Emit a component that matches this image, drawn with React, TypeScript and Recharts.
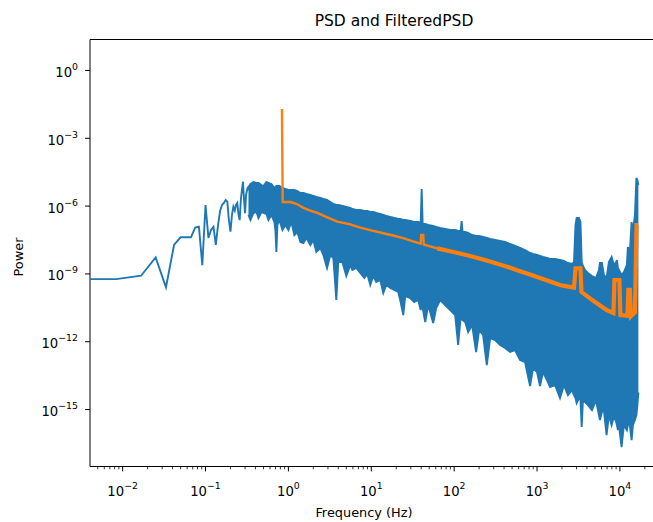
import React from 'react';
import { ComposedChart, Line, Area, XAxis, YAxis, ReferenceArea } from 'recharts';

const BLUE = '#1f77b4';
const ORANGE = '#ff7f0e';
const FONT = 'DejaVu Sans, Liberation Sans, sans-serif';

// axis limits (log10)
const xLogLimits = [-2.394, 4.532];
const yLogLimits = [-17.52, 1.37];

const xMajorTicks = [1e-2, 1e-1, 1, 1e1, 1e2, 1e3, 1e4];
const xMinorMultipliers = [2, 3, 4, 5, 6, 7, 8, 9];
const yMajorTicks = [1, 1e-3, 1e-6, 1e-9, 1e-12, 1e-15];

// PSD, low frequency bins that can be told apart (log10 Hz, log10 power)
const psdLowLogFreq = [
  -2.6, -2.079, -1.778, -1.602, -1.477, -1.38, -1.301, -1.235, -1.176, -1.125, -1.08, -1.039,
  -1.0, -0.965, -0.934, -0.904, -0.876, -0.849, -0.824, -0.801, -0.778, -0.757, -0.737, -0.718,
  -0.699, -0.681, -0.664, -0.647, -0.633, -0.617, -0.602, -0.588, -0.574, -0.561, -0.548, -0.535,
  -0.523, -0.511, -0.499, -0.488, -0.478,
];
const psdLowLogPower = [
  -9.23, -9.23, -9.08, -8.27, -9.59, -7.72, -7.38, -7.38, -7.38, -6.95, -6.91, -8.61,
  -5.95, -7.41, -7.06, -6.92, -7.72, -6.84, -6.2, -5.95, -5.86, -5.73, -5.8, -6.62,
  -7.13, -6.39, -6.03, -6.2, -5.95, -5.86, -6.39, -6.62, -5.73, -5.29, -4.92, -5.73,
  -6.31, -5.51, -5.29, -5.14, -5.3,
];

// PSD, dense part: upper and lower envelope of the trace (log10 Hz, log10 power)
const psdBandLogFreq = [
  -0.482, -0.458, -0.422, -0.386, -0.361, -0.325, -0.301, -0.265, -0.241, -0.205, -0.169, -0.157,
  -0.145, -0.133, -0.108, -0.072, -0.036, 0, 0.036, 0.072, 0.108, 0.145, 0.181, 0.217,
  0.265, 0.301, 0.337, 0.386, 0.422, 0.466, 0.506, 0.542, 0.578, 0.602, 0.651, 0.699,
  0.747, 0.771, 0.819, 0.867, 0.916, 0.952, 0.988, 1.024, 1.06, 1.108, 1.145, 1.181,
  1.229, 1.277, 1.325, 1.349, 1.386, 1.41, 1.47, 1.518, 1.566, 1.596, 1.608, 1.62,
  1.651, 1.687, 1.747, 1.783, 1.831, 1.892, 1.952, 2.012, 2.048, 2.078, 2.09, 2.102,
  2.133, 2.169, 2.217, 2.265, 2.301, 2.349, 2.394, 2.434, 2.494, 2.554, 2.614, 2.675,
  2.735, 2.795, 2.855, 2.916, 2.952, 3.0, 3.036, 3.072, 3.12, 3.157, 3.217, 3.277,
  3.325, 3.373, 3.422, 3.446, 3.464, 3.478, 3.506, 3.524, 3.539, 3.554, 3.578, 3.614,
  3.663, 3.711, 3.747, 3.759, 3.783, 3.807, 3.839, 3.867, 3.9, 3.916, 3.94, 3.964,
  3.976, 3.988, 4.02, 4.048, 4.084, 4.096, 4.108, 4.12, 4.141, 4.157, 4.181, 4.199,
  4.211, 4.223,
];
const psdBandTopLogPower = [
  -5.155, -5.022, -4.934, -4.978, -4.978, -5.066, -5.111, -4.934, -4.978, -5.022, -5.199, -5.155,
  -5.111, -5.111, -5.111, -5.199, -5.243, -5.288, -5.288, -5.288, -5.332, -5.42, -5.42, -5.465,
  -5.509, -5.553, -5.597, -5.642, -5.686, -5.73, -5.819, -5.907, -5.951, -5.951, -5.996, -6.04,
  -6.084, -6.128, -6.173, -6.173, -6.217, -6.217, -6.261, -6.261, -6.305, -6.35, -6.394, -6.438,
  -6.482, -6.527, -6.571, -6.571, -6.615, -6.615, -6.659, -6.704, -6.704, -6.748, -5.243, -6.792,
  -6.792, -6.836, -6.881, -6.925, -6.969, -7.013, -7.058, -7.058, -7.102, -7.102, -6.659, -7.146,
  -7.146, -7.19, -7.279, -7.323, -7.323, -7.367, -7.412, -7.456, -7.5, -7.544, -7.588, -7.677,
  -7.765, -7.854, -7.942, -8.075, -8.119, -8.164, -8.208, -8.252, -8.296, -8.341, -8.341, -8.385,
  -8.429, -8.518, -8.562, -8.473, -6.836, -6.527, -6.527, -6.704, -8.473, -8.65, -8.827, -8.96,
  -9.093, -9.181, -8.827, -8.518, -8.518, -9.049, -9.181, -8.473, -8.252, -8.473, -8.606, -8.385,
  -8.739, -8.827, -9.049, -8.916, -8.606, -7.81, -7.942, -8.031, -6.704, -7.146, -6.394, -4.757,
  -4.845, -5.066,
];
const psdBandLowLogPower = [
  -6.394, -6.615, -6.305, -6.261, -6.527, -6.261, -6.305, -6.35, -6.615, -6.394, -6.704, -7.058,
  -8.031, -6.836, -6.615, -7.058, -6.836, -7.058, -6.704, -7.279, -7.146, -7.588, -7.633, -7.412,
  -7.722, -7.5, -8.031, -7.854, -8.164, -8.739, -8.164, -8.296, -10.155, -8.473, -8.473, -9.093,
  -8.606, -8.827, -8.739, -8.96, -9.181, -9.004, -9.491, -9.093, -9.358, -9.27, -9.845, -9.491,
  -9.624, -9.712, -9.801, -10.155, -10.819, -9.978, -10.066, -10.243, -10.155, -10.597, -10.376, -10.509,
  -11.128, -10.376, -11.173, -10.509, -10.155, -10.376, -10.597, -10.819, -12.146, -10.951, -10.951, -11.04,
  -11.128, -11.571, -11.261, -12.456, -11.482, -11.704, -13.031, -11.836, -11.925, -12.146, -12.279, -12.456,
  -12.367, -12.81, -12.898, -13.96, -13.164, -13.341, -13.96, -13.341, -13.695, -14.004, -13.916, -14.491,
  -13.916, -14.358, -14.137, -14.358, -14.491, -14.712, -14.491, -14.58, -15.774, -14.58, -14.668, -14.801,
  -15.022, -14.58, -15.243, -15.465, -15.111, -15.022, -16.128, -15.243, -15.686, -15.465, -15.376, -15.686,
  -15.907, -15.686, -16.659, -15.686, -15.907, -15.686, -15.465, -15.686, -16.35, -15.686, -15.465, -15.243,
  -14.801, -14.248,
];

// Filtered PSD (log10 Hz, log10 power)
const filteredLogFreq = [
  -0.078, -0.069, 0.024, 0.096, 0.181, 0.265, 0.349, 0.47, 0.59, 0.747, 0.867, 0.988,
  1.145, 1.265, 1.386, 1.494, 1.596, 1.602, 1.627, 1.633, 1.711, 1.795, 1.952, 2.072,
  2.229, 2.434, 2.639, 2.795, 2.916, 3.036, 3.157, 3.277, 3.361, 3.446, 3.464, 3.524,
  3.536, 3.639, 3.759, 3.843, 3.922, 3.934, 3.994, 4.006, 4.09, 4.102, 4.12, 4.133,
  4.181, 4.201, 4.217,
];
const filteredLogPower = [
  -1.7, -5.82, -5.82, -5.9, -6.08, -6.2, -6.3, -6.5, -6.69, -6.81, -6.95, -7.06,
  -7.2, -7.3, -7.42, -7.55, -7.66, -7.28, -7.28, -7.7, -7.78, -7.87, -8.0, -8.1,
  -8.24, -8.45, -8.68, -8.88, -9.03, -9.18, -9.34, -9.49, -9.55, -9.6, -8.75, -8.75,
  -9.8, -10.08, -10.4, -10.6, -10.73, -9.27, -9.27, -10.82, -10.85, -9.71, -9.71, -10.87,
  -10.7, -6.84, -6.84,
];

const psdLow = psdLowLogFreq.map((lf, i) => ({ f: 10 ** lf, p: 10 ** psdLowLogPower[i] }));
const psdBand = psdBandLogFreq.map((lf, i) => ({
  f: 10 ** lf,
  range: [10 ** psdBandLowLogPower[i], 10 ** psdBandTopLogPower[i]],
}));
const filtered = filteredLogFreq.map((lf, i) => ({ lf, f: 10 ** lf, p: 10 ** filteredLogPower[i] }));
// the filtered trace gets visibly thicker above ~60 Hz
const SPLIT = 1.795;
const filteredLow = filtered.filter((d) => d.lf <= SPLIT);
const filteredHigh = filtered.filter((d) => d.lf >= SPLIT);

const xDomain = [10 ** xLogLimits[0], 10 ** xLogLimits[1]];
const yDomain = [10 ** yLogLimits[0], 10 ** yLogLimits[1]];

const xTicks: number[] = [];
for (let k = -3; k <= 4; k++) {
  xTicks.push(10 ** k);
  xMinorMultipliers.forEach((m) => xTicks.push(m * 10 ** k));
}
const xTicksInRange = xTicks.filter((t) => t >= xDomain[0] && t <= xDomain[1]);

const expLabel = (v: number) => {
  const e = Math.round(Math.log10(v));
  return e < 0 ? '\u2212' + Math.abs(e) : String(e);
};

const isMajor = (v: number) => xMajorTicks.some((t) => Math.abs(t - v) / t < 1e-6);

const TICK_FONT = 13.2;
const SUP_FONT = 9.4;

const XTick = (props: any) => {
  const { x, y, payload } = props;
  const major = isMajor(payload.value);
  return (
    <g>
      <line x1={x} x2={x} y1={y} y2={y + (major ? 4.9 : 2.8)} stroke="#000" strokeWidth={major ? 1 : 0.8} />
      {major && (
        <text x={x} y={y + 29} textAnchor="middle" fontSize={TICK_FONT} fontFamily={FONT} fill="#000">
          10
          <tspan dy={-7} fontSize={SUP_FONT}>
            {expLabel(payload.value)}
          </tspan>
        </text>
      )}
    </g>
  );
};

const YTick = (props: any) => {
  const { x, y, payload } = props;
  return (
    <g>
      <line x1={x - 4.9} x2={x} y1={y} y2={y} stroke="#000" strokeWidth={1} />
      <text x={x - 12} y={y + 6.5} textAnchor="end" fontSize={TICK_FONT} fontFamily={FONT} fill="#000">
        10
        <tspan dy={-7} fontSize={SUP_FONT}>
          {expLabel(payload.value)}
        </tspan>
      </text>
    </g>
  );
};

export default function App() {
  return (
    <div style={{ position: 'absolute', left: 0, top: 0, width: 653, height: 522, overflow: 'hidden', background: '#fff' }}>
      <ComposedChart width={680} height={522} margin={{ top: 39.5, right: 16, bottom: 15.5, left: 30 }}>
        <XAxis
          dataKey="f"
          type="number"
          scale="log"
          domain={xDomain}
          allowDataOverflow
          ticks={xTicksInRange}
          tick={<XTick />}
          tickSize={0}
          tickMargin={0}
          tickLine={false}
          axisLine={false}
          height={40}
          interval={0}
        />
        <YAxis
          type="number"
          scale="log"
          domain={yDomain}
          allowDataOverflow
          ticks={yMajorTicks}
          tick={<YTick />}
          tickSize={0}
          tickMargin={0}
          tickLine={false}
          axisLine={false}
          width={60}
          interval={0}
        />
        <Line
          data={psdLow}
          dataKey="p"
          stroke={BLUE}
          strokeWidth={1.9}
          dot={false}
          activeDot={false}
          type="linear"
          isAnimationActive={false}
        />
        <Area
          data={psdBand}
          dataKey="range"
          stroke={BLUE}
          strokeWidth={1.9}
          fill={BLUE}
          fillOpacity={1}
          dot={false}
          activeDot={false}
          type="linear"
          isAnimationActive={false}
        />
        <Line
          data={filteredLow}
          dataKey="p"
          stroke={ORANGE}
          strokeWidth={2.4}
          dot={false}
          activeDot={false}
          type="linear"
          isAnimationActive={false}
        />
        <Line
          data={filteredHigh}
          dataKey="p"
          stroke={ORANGE}
          strokeWidth={4.2}
          dot={false}
          activeDot={false}
          type="linear"
          isAnimationActive={false}
        />
        <ReferenceArea
          x1={xDomain[0]}
          x2={xDomain[1]}
          y1={yDomain[0]}
          y2={yDomain[1]}
          fill="none"
          fillOpacity={0}
          stroke="#000"
          strokeWidth={1}
          ifOverflow="visible"
        />
      </ComposedChart>
      <svg width={653} height={522} style={{ position: 'absolute', left: 0, top: 0, pointerEvents: 'none' }}>
        <text x={394} y={26} textAnchor="middle" fontSize={15.5} fontFamily={FONT} fill="#000">
          PSD and FilteredPSD
        </text>
        <text x={364} y={516.5} textAnchor="middle" fontSize={12.9} fontFamily={FONT} fill="#000">
          Frequency (Hz)
        </text>
        <text x={23} y={257} textAnchor="middle" fontSize={12.9} fontFamily={FONT} fill="#000" transform="rotate(-90, 23, 257)">
          Power
        </text>
      </svg>
    </div>
  );
}
